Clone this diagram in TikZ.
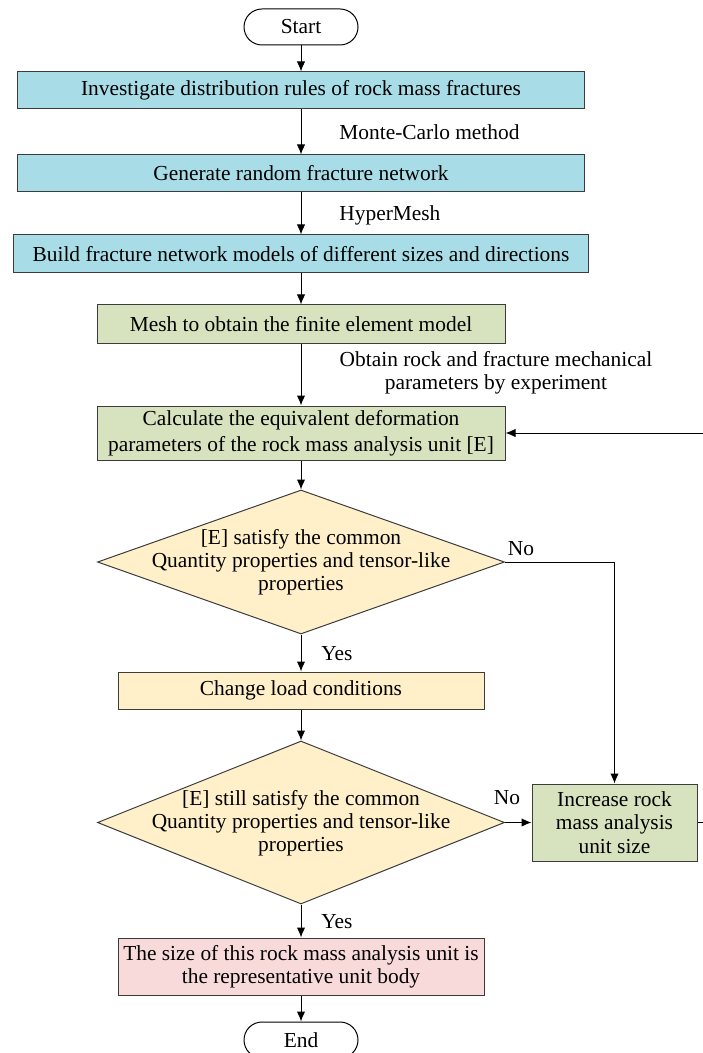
\documentclass[tikz,border=0pt]{standalone}
\usepackage{fontspec}
\setmainfont{Liberation Serif}
\usetikzlibrary{shapes.geometric,arrows.meta}
\definecolor{cyanbox}{RGB}{168,221,232}
\definecolor{greenbox}{RGB}{214,227,190}
\definecolor{yellowbox}{RGB}{255,240,202}
\definecolor{pinkbox}{RGB}{248,218,218}
\definecolor{edge}{RGB}{60,60,60}
\tikzset{
  every node/.style={font=\fontsize{10.7}{11.6}\selectfont, text=black},
  procbox/.style={draw=edge, line width=0.5pt, rectangle, inner sep=0pt, align=center},
  term/.style={draw=black, line width=0.5pt, rectangle, rounded corners=9pt, minimum width=57pt, minimum height=18pt, inner sep=0pt},
  decision/.style={draw=edge, line width=0.5pt, diamond, fill=yellowbox, inner sep=0pt},
  conn/.style={draw=black, line width=0.5pt, -{Latex[length=5pt,width=4.2pt]}},
  lbl/.style={inner sep=0pt, align=center}
}
\begin{document}
\begin{tikzpicture}[x=0.5pt,y=-0.5pt]
\useasboundingbox (0,0) rectangle (702,1053);
% nodes
\node[term] (start) at (301,27) {Start};
\node[procbox, fill=cyanbox, minimum width=283.5pt, minimum height=18.5pt] (b1) at (301,90.5) {Investigate distribution rules of rock mass fractures};
\node[procbox, fill=cyanbox, minimum width=283.5pt, minimum height=18.5pt] (b2) at (301,173.5) {Generate random fracture network};
\node[procbox, fill=cyanbox, minimum width=287.5pt, minimum height=19pt] (b3) at (301,254) {Build fracture network models of different sizes and directions};
\node[procbox, fill=greenbox, minimum width=204pt, minimum height=19pt] (b4) at (301,324) {Mesh to obtain the finite element model};
\node[procbox, fill=greenbox, minimum width=204pt, minimum height=27pt, font=\fontsize{10.7}{13}\selectfont] (b5) at (301,433) {Calculate the equivalent deformation\\parameters of the rock mass analysis unit [E]};
\node[decision, minimum width=203.5pt, minimum height=72pt] (d1) at (301,562) {};
\node[lbl] (d1t) at (301,562) {[E] satisfy the common\\Quantity properties and tensor-like\\properties};
\node[procbox, fill=yellowbox, minimum width=183pt, minimum height=18.5pt] (b7) at (301,690.5) {Change load conditions};
\node[decision, minimum width=203.5pt, minimum height=81.5pt] (d2) at (301,822.5) {};
\node[lbl] (d2t) at (301,823) {[E] still satisfy the common\\Quantity properties and tensor-like\\properties};
\node[procbox, fill=greenbox, minimum width=82.5pt, minimum height=38.5pt] (b6) at (614.5,822.5) {Increase rock\\mass analysis\\unit size};
\node[procbox, fill=pinkbox, minimum width=183pt, minimum height=28.5pt] (b8) at (301,966.5) {The size of this rock mass analysis unit is\\the representative unit body};
\node[term] (end) at (301,1040) {End};
% labels
\node[lbl, anchor=west] (l1) at (339,132) {Monte-Carlo method};
\node[lbl, anchor=west] (l2) at (339,215) {HyperMesh};
\node[lbl] (l3) at (496,373) {Obtain rock and fracture mechanical\\parameters by experiment};
\node[lbl] (no1) at (521,549) {No};
\node[lbl, anchor=west] (yes1) at (321,654) {Yes};
\node[lbl] (no2) at (507,798) {No};
\node[lbl, anchor=west] (yes2) at (321,922) {Yes};
% connectors
\draw[conn] (start) -- (b1);
\draw[conn] (b1) -- (b2);
\draw[conn] (b2) -- (b3);
\draw[conn] (b3) -- (b4);
\draw[conn] (b4) -- (b5);
\draw[conn] (b5) -- (d1);
\draw[conn] (d1) -- (b7);
\draw[conn] (b7) -- (d2);
\draw[conn] (d2) -- (b6);
\draw[conn] (d1.east) -| (b6.north);
\draw[conn] (d2) -- (b8);
\draw[conn] (b8) -- (end);
\coordinate (loop) at (714,822.5);
\draw[conn] (b6.east) -- (loop) |- (b5.east);
\end{tikzpicture}
\end{document}
